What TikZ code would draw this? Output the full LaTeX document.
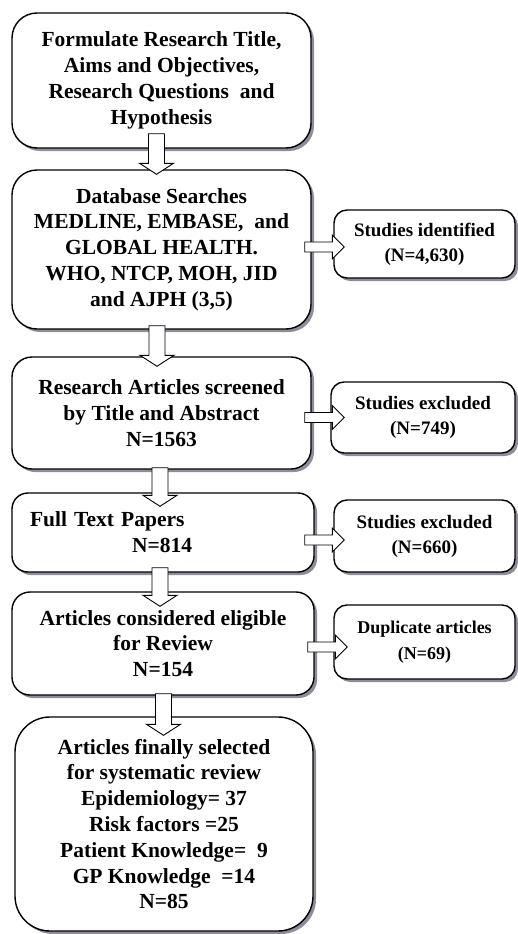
\documentclass[tikz,border=0pt]{standalone}
\usepackage{fontspec}
\setmainfont{Liberation Serif}
\usetikzlibrary{shadows,calc}
\definecolor{shcol}{RGB}{145,140,155}
\newcommand\arrdown[2]{\draw[blk] let \p1=#1, \p2=#2 in
  (\x2-8pt,\y1) -- (\x2-8pt,\y2+11pt) -- (\x2-17pt,\y2+11pt) -- (\x2,\y2) --
  (\x2+17pt,\y2+11pt) -- (\x2+8pt,\y2+11pt) -- (\x2+8pt,\y1) -- cycle;}
\newcommand\arrright[2]{\draw[blk] let \p1=#1, \p2=#2 in
  (\x1,\y2+5pt) -- (\x2-12pt,\y2+5pt) -- (\x2-12pt,\y2+12pt) -- (\x2,\y2) --
  (\x2-12pt,\y2-12pt) -- (\x2-12pt,\y2-5pt) -- (\x1,\y2-5pt) -- cycle;}
\begin{document}
\begin{tikzpicture}[x=1pt,y=-1pt,
  box/.style={draw,line width=1.4pt,fill=white,rounded corners=#1,inner sep=0pt,
    align=center,font={\fontsize{21.5}{25.8}\selectfont\bfseries},
    drop shadow={shadow xshift=3pt,shadow yshift=-3pt,fill=shcol,opacity=1}},
  box/.default=22pt,
  rbox/.style={box=13pt,font={\fontsize{19}{25}\selectfont\bfseries}},
  blk/.style={draw,line width=0.9pt,fill=white,line join=miter}]
\useasboundingbox (0,0) rectangle (518,934);
% left column
\node[box=25pt,minimum width=299pt,minimum height=135pt] (b1) at (161.5,80.5)
  {Formulate Research Title,\\Aims and Objectives,\\Research Questions\ \ and\\Hypothesis};
\node[box=25pt,minimum width=299pt,minimum height=159pt] (b2) at (161.5,249.5)
  {Database Searches\\MEDLINE, EMBASE, \ and\\GLOBAL HEALTH.\\WHO, NTCP, MOH, JID\\and AJPH (3,5)};
\node[box=20pt,minimum width=299pt,minimum height=112pt] (b3) at (161.5,413)
  {Research Articles screened\\by Title and Abstract\\N=1563};
\node[box=16pt,minimum width=302pt,minimum height=79pt,text width=302pt,align=left] (b4) at (163,532.5)
  {\hspace*{18pt}Full Text Papers\\\hspace*{120pt}N=814};
\node[box=18pt,minimum width=302pt,minimum height=103pt] (b5) at (163,643.5)
  {Articles considered eligible\\for Review\\N=154};
\node[box=35pt,minimum width=298pt,minimum height=214pt] (b6) at (164,824)
  {Articles finally selected\\for systematic review\\Epidemiology= 37\\Risk factors =25\\Patient Knowledge=\ \ 9\\GP Knowledge \ =14\\N=85};
% right column
\node[rbox,minimum width=181pt,minimum height=68pt] (r1) at (424.5,244)
  {Studies identified\\(N=4,630)};
\node[rbox,minimum width=184pt,minimum height=71pt] (r2) at (423,417.5)
  {Studies excluded\\(N=749)};
\node[rbox,minimum width=181pt,minimum height=72pt] (r3) at (424.5,536)
  {Studies excluded\\(N=660)};
\node[rbox,minimum width=181pt,minimum height=74pt,font={\fontsize{18}{26}\selectfont\bfseries}] (r4) at (424.5,642)
  {Duplicate articles\\(N=69)};
% down arrows
\arrdown{($(b1.south)+(-5,-15)$)}{($(b2.north)+(-5,5)$)}
\arrdown{($(b2.south)+(-4.5,-4)$)}{($(b3.north)+(-4.5,10)$)}
\arrdown{($(b3.south)+(-1.5,-2)$)}{($(b4.north)+(-3,14)$)}
\arrdown{($(b4.south)+(-3,-5)$)}{($(b5.north)+(-3,15)$)}
\arrdown{($(b5.south)+(0.5,-2)$)}{($(b6.north)+(-0.5,19)$)}
% right arrows
\arrright{($(b2.east)+(-7,-2.5)$)}{($(r1.west)+(11,3)$)}
\arrright{($(b3.east)+(-7,4.5)$)}{($(r2.west)+(14,0)$)}
\arrright{($(b4.east)+(-10,7.5)$)}{($(r3.west)+(11,4)$)}
\arrright{($(b5.east)+(-7,3.5)$)}{($(r4.west)+(14,5)$)}
\end{tikzpicture}
\end{document}
